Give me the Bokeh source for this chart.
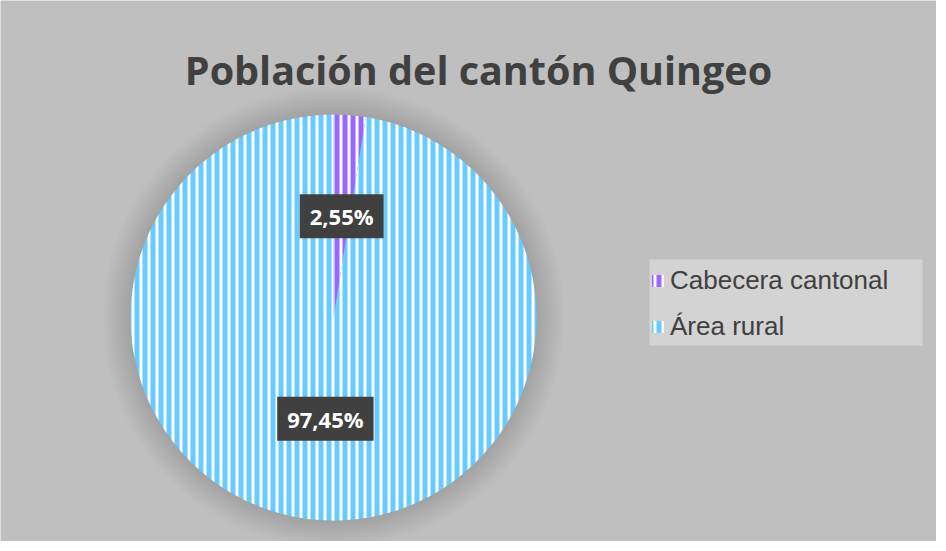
import math
from bokeh.plotting import figure
from bokeh.models import Range1d, Label, Legend, LegendItem, ColumnDataSource, BoxAnnotation
from bokeh.embed import file_html
from bokeh.resources import INLINE

# ---- data ----
title_text = "Población del cantón Quingeo"
categories = ["Cabecera cantonal", "Área rural"]
percentages = [2.55, 97.45]
colors = ["#9966FF", "#66CCFF"]

# ---- layout (pixels) ----
W, H = 936, 541
cx, cy, R = 333, 224, 203

p = figure(width=W, height=H, output_backend="svg", toolbar_location=None,
           x_range=Range1d(0, W), y_range=Range1d(0, H),
           x_axis_type=None, y_axis_type=None, min_border=0)
p.background_fill_color = "#BFBFBF"
p.border_fill_color = "#BFBFBF"
p.outline_line_color = None
p.grid.visible = False

# soft shadow around the pie
n_sh = 14
for k in range(n_sh, 0, -1):
    p.circle(x=[cx], y=[cy], radius=R + k * 2, fill_color="black",
             fill_alpha=0.006, line_color=None)

# wedge angles from the data
total = sum(percentages)
starts, ends = [], []
a = math.pi / 2
for v in percentages:
    starts.append(a)
    a = a - v / total * 2 * math.pi
    ends.append(a)

src = ColumnDataSource(dict(cat=categories, pct=percentages, color=colors,
                            start=starts, end=ends))
wr = p.wedge(x=cx, y=cy, radius=R, start_angle="start", end_angle="end",
             direction="clock", source=src, fill_color="color", line_color=None,
             hatch_pattern="vertical_line", hatch_color="white",
             hatch_scale=8, hatch_weight=3)

# percentage labels at mid-angle, half radius
for v, s, e in zip(percentages, starts, ends):
    mid = (s + e) / 2
    txt = f"{v:.2f}".replace(".", ",") + "%"
    p.add_layout(Label(x=cx + 0.5 * R * math.cos(mid), y=cy + 0.5 * R * math.sin(mid),
                       text=txt, text_align="center", text_baseline="middle",
                       text_font="Open Sans", text_font_style="bold",
                       text_font_size="22px", text_color="white",
                       background_fill_color="#404040",
                       padding=dict(left=10, right=10, top=7, bottom=7)))

# title
p.add_layout(Label(x=478, y=472, text=title_text, text_align="center",
                   text_baseline="alphabetic", text_font="Open Sans",
                   text_font_style="bold", text_font_size="39.5px",
                   text_color="#404040"))

# legend background box
p.add_layout(BoxAnnotation(left=649, right=922, bottom=H - 345, top=H - 259,
                           fill_color="#D3D3D3", fill_alpha=1.0, line_color=None,
                           level="underlay"))

legend = Legend(items=[LegendItem(label=c, renderers=[wr], index=i)
                       for i, c in enumerate(categories)],
                location=(650, H - 342), orientation="vertical",
                background_fill_alpha=0.0,
                border_line_color=None, padding=10, spacing=15, margin=0,
                glyph_width=15, glyph_height=15, label_standoff=5,
                label_text_font="Liberation Sans", label_text_font_size="26px",
                label_text_color="#404040")
p.add_layout(legend)

open("out.html", "w").write(file_html(p, INLINE))
